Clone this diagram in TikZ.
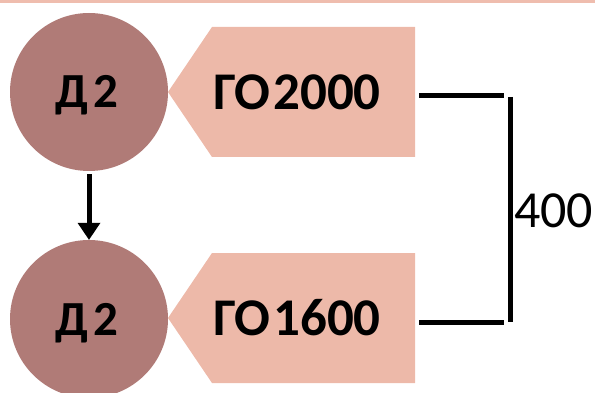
\documentclass[tikz,border=0pt]{standalone}
\usepackage{fontspec}
\setmainfont{Carlito}
\usetikzlibrary{arrows.meta}
\definecolor{circ}{HTML}{B07B77}
\definecolor{tag}{HTML}{EDB9A9}
\definecolor{topline}{HTML}{EFBDAE}
\begin{document}
\begin{tikzpicture}[x=1pt,y=-1pt,
  circ/.style={circle,fill=circ,minimum size=158pt,inner sep=0pt},
  circtext/.style={font=\bfseries\fontsize{49}{49}\selectfont,inner sep=0pt,anchor=base},
  tagtext/.style={font=\bfseries\fontsize{53}{53}\selectfont,inner sep=0pt,anchor=base},
  tagshape/.style={fill=tag},
  bline/.style={line width=5pt}]
\useasboundingbox (0,0) rectangle (595,393);
\fill[topline] (0,0.5) rectangle (595,3.5);
% circles
\node[circ] (d1) at (89,92) {};
\node[circ] (d2) at (89,319) {};
\node[circtext] (d1t) at (86.5,108) {Д\kern5pt2};
\node[circtext] (d2t) at (86.5,335) {Д\kern5pt2};
% tags
\fill[tagshape] (168,92) -- (212,27) -- (415,27) -- (415,157) -- (212,157) -- cycle;
\fill[tagshape] (168,318) -- (212,253) -- (415,253) -- (415,383) -- (212,383) -- cycle;
\node[tagtext] (g1) at (297,110) {ГО\kern3pt2000};
\node[tagtext] (g2) at (297,335) {ГО\kern3pt1600};
% arrow
\draw[line width=5pt,-{Triangle[width=23pt,length=17pt,line width=0pt]}] (d1.south) ++(0,3) coordinate (a1) -- (d2.north);
% bracket
\coordinate (b1) at (419,96);
\coordinate (b2) at (504,96);
\coordinate (b3) at (510,97);
\coordinate (b4) at (510,322);
\coordinate (b5) at (504,322);
\coordinate (b6) at (419,322);
\draw[bline] (b1) -- (b2);
\draw[bline] (b3) -- (b4);
\draw[bline] (b6) -- (b5);
\node[font=\fontsize{52}{52}\selectfont,inner sep=0pt,anchor=base west] (n400) at (514,228) {400};
\end{tikzpicture}
\end{document}
